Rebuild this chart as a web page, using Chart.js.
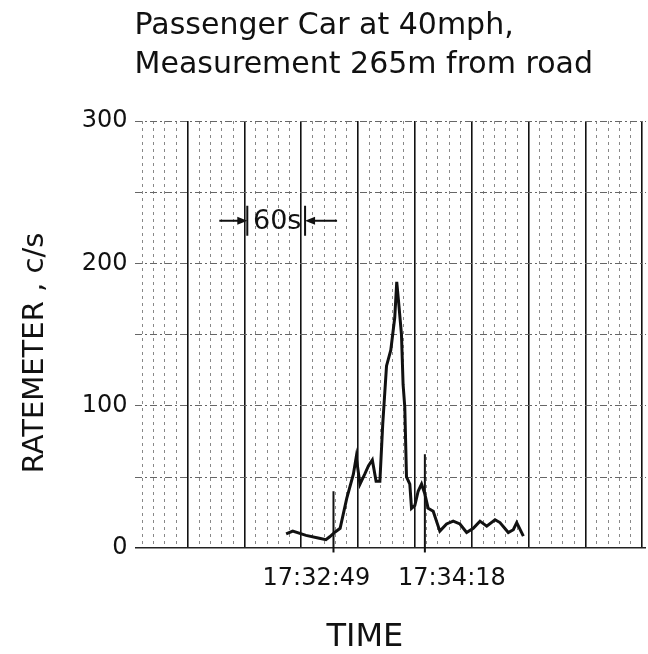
<!DOCTYPE html>
<html>
<head>
<meta charset="utf-8">
<script src="https://cdn.jsdelivr.net/npm/chart.js@4/dist/chart.umd.min.js"></script>
<style>
    html, body { margin: 0; padding: 0; background: #fff; }
    #wrap { width: 648px; height: 654px; }
</style>
</head>
<body>
<div id="wrap"><canvas id="rateChart"></canvas></div>
<script>
// strip-chart time in seconds (heavy grid line every 60 s)
const timeSec = [164, 171, 185, 199, 206, 210, 215, 221, 228, 235, 238, 242, 247, 251, 255, 259, 263, 266,
    270, 274.5, 278.7, 280.8, 282.9, 285.8, 287.5, 289.3, 291.1, 294.6, 296.4, 299.9, 303.4, 307, 310.5,
    314, 319.3, 326.3, 333.4, 340.4, 347.5, 354.6, 361.6, 368.7, 375.8, 384.6, 389.8, 398.6, 403.9, 407.5, 414.5];
const rateCps = [10, 12, 9, 7, 6, 8, 11, 14, 35, 52, 64, 45, 52, 58, 62, 47, 47, 87,
    128, 139, 162, 187, 172, 150, 115, 99, 50, 45, 28, 30, 40, 45, 38,
    28, 26, 12, 17, 19, 17, 11, 14, 19, 15.5, 20, 18, 11, 13, 18, 8.5];

// pen marks for the two clock readings
const markerSec = [214, 310.5];
const markerTop = [40, 66];
const markerBottom = -3;

// tick labels
const timeLabelSec = [196, 339];
const timeLabels = ['17:32:49', '17:34:18'];
const yLabelValues = [0, 100, 200, 300];

// "60s" bracket
const intervalSec = [123, 184];
const intervalLevel = 230;
const intervalLabel = '60s';

Chart.defaults.font.family = '"DejaVu Sans", sans-serif';
Chart.defaults.color = '#111';

const intervalNote = {
    id: 'intervalNote',
    afterDatasetsDraw(chart) {
        const { ctx, scales } = chart;
        const x0 = scales.x.getPixelForValue(intervalSec[0]);
        const x1 = scales.x.getPixelForValue(intervalSec[1]);
        const y = scales.y.getPixelForValue(intervalLevel);
        ctx.save();
        ctx.strokeStyle = '#111';
        ctx.fillStyle = '#111';
        ctx.lineWidth = 2;
        ctx.beginPath();
        ctx.moveTo(x0, y - 15); ctx.lineTo(x0, y + 15);
        ctx.moveTo(x1, y - 15); ctx.lineTo(x1, y + 15);
        ctx.moveTo(x0 - 28, y); ctx.lineTo(x0 - 6, y);
        ctx.moveTo(x1 + 32, y); ctx.lineTo(x1 + 6, y);
        ctx.stroke();
        // arrow heads
        ctx.beginPath();
        ctx.moveTo(x0, y); ctx.lineTo(x0 - 10, y - 4); ctx.lineTo(x0 - 10, y + 4); ctx.closePath();
        ctx.moveTo(x1, y); ctx.lineTo(x1 + 10, y - 4); ctx.lineTo(x1 + 10, y + 4); ctx.closePath();
        ctx.fill();
        ctx.font = '27px "DejaVu Sans"';
        ctx.textAlign = 'center';
        ctx.textBaseline = 'middle';
        ctx.fillText(intervalLabel, (x0 + x1) / 2 + 1, y + 1);
        ctx.restore();
    }
};

const markerSets = markerSec.map((t, i) => ({
    data: [{ x: t, y: markerBottom }, { x: t, y: markerTop[i] }],
    borderColor: '#111',
    borderWidth: 2,
    pointRadius: 0,
    clip: false
}));

const ctx = document.getElementById('rateChart').getContext('2d');
const rateChart = new Chart(ctx, {
    type: 'line',
    data: {
        datasets: [{
            data: timeSec.map((t, i) => ({ x: t, y: rateCps[i] })),
            borderColor: '#111',
            borderWidth: 3,
            pointRadius: 0,
            tension: 0
        }, ...markerSets]
    },
    options: {
        responsive: true,
        maintainAspectRatio: false,
        animation: false,
        layout: { padding: { left: 0, right: 2, top: 0, bottom: 0 } },
        scales: {
            x: {
                type: 'linear',
                position: 'bottom',
                min: 4,
                max: 544,
                afterBuildTicks: (axis) => {
                    const ticks = [];
                    for (let v = 12; v <= 540; v += 12) ticks.push({ value: v });
                    axis.ticks = ticks;
                },
                ticks: { display: false },
                grid: {
                    drawTicks: false,
                    color: (c) => c.tick && c.tick.value % 60 === 0 ? '#111' : '#888',
                    lineWidth: (c) => c.tick && c.tick.value % 60 === 0 ? 1.6 : 1
                },
                border: {
                    display: false,
                    dash: (c) => c.tick && c.tick.value % 60 === 0 ? [] : [3, 4]
                }
            },
            xTime: {
                type: 'linear',
                position: 'bottom',
                min: 4,
                max: 544,
                afterBuildTicks: (axis) => {
                    axis.ticks = timeLabelSec.map(v => ({ value: v }));
                },
                ticks: {
                    autoSkip: false,
                    maxRotation: 0,
                    padding: 8,
                    font: { size: 24 },
                    callback: (v) => timeLabels[timeLabelSec.indexOf(v)]
                },
                grid: { display: false },
                border: { display: false },
                title: {
                    display: true,
                    // trailing spaces pull the word left, as in the original
                    text: 'TIME     ',
                    font: { size: 32, lineHeight: 1.0 },
                    padding: { top: 21, bottom: 0 }
                }
            },
            y: {
                min: 0,
                max: 300,
                afterBuildTicks: (axis) => {
                    const ticks = [];
                    for (let v = 0; v <= 300; v += 50) ticks.push({ value: v });
                    axis.ticks = ticks;
                },
                ticks: {
                    padding: 7,
                    font: { size: 24 },
                    callback: (v) => yLabelValues.includes(v) ? v : ''
                },
                grid: {
                    drawTicks: false,
                    color: (c) => c.tick && c.tick.value === 0 ? '#222' : '#666',
                    lineWidth: (c) => c.tick && c.tick.value === 0 ? 1.6 : 1
                },
                border: {
                    display: false,
                    dash: (c) => c.tick && c.tick.value === 0 ? [] : [7, 3, 2, 3]
                },
                title: {
                    display: true,
                    // trailing spaces push the label down the axis
                    text: 'RATEMETER , c/s    ',
                    font: { size: 29 },
                    padding: { top: 18, bottom: 22 }
                }
            }
        },
        plugins: {
            legend: { display: false },
            tooltip: { enabled: false },
            title: {
                display: true,
                text: 'Passenger Car at 40mph,',
                align: 'start',
                fullSize: false,
                font: { size: 30, weight: 'normal' },
                padding: { top: 8, bottom: 0 }
            },
            subtitle: {
                display: true,
                text: 'Measurement 265m from road',
                align: 'start',
                fullSize: false,
                color: '#111',
                font: { size: 30 },
                padding: { top: 3.5, bottom: 37.5 }
            }
        }
    },
    plugins: [intervalNote]
});
</script>
</body>
</html>
